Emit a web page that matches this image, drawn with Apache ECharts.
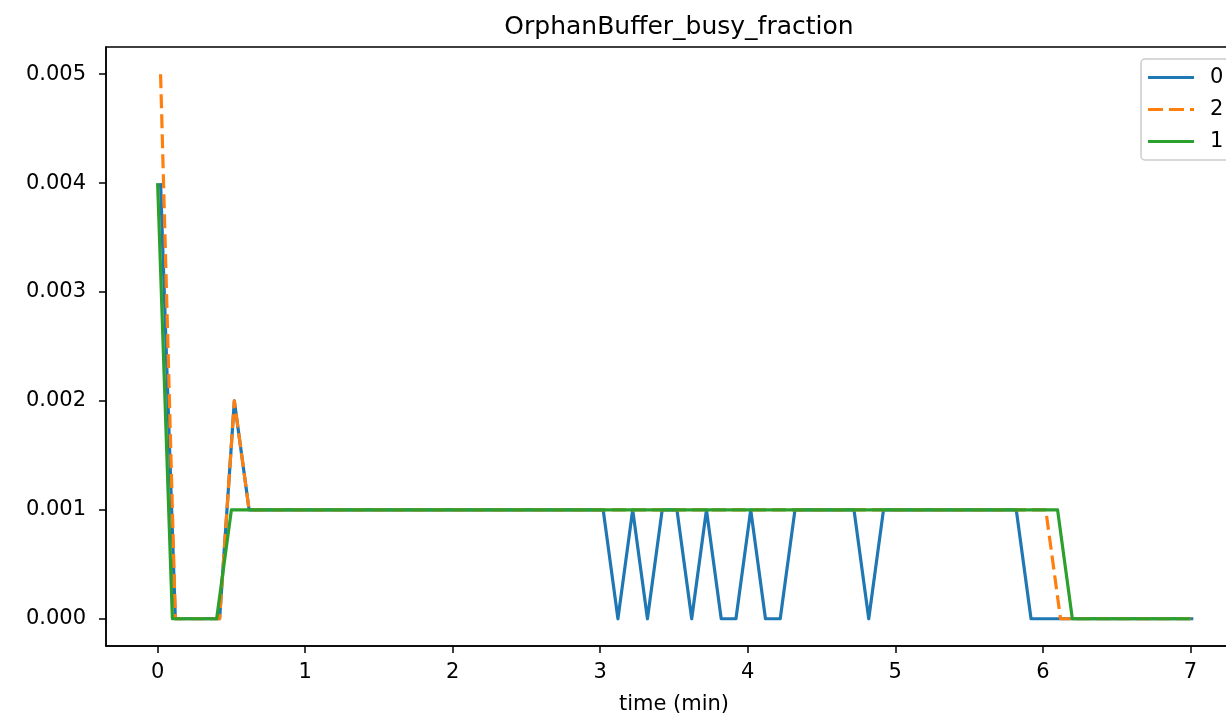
<!DOCTYPE html>
<html>
<head>
<meta charset="utf-8">
<script src="https://cdn.jsdelivr.net/npm/echarts@6/dist/echarts.min.js"></script>
<style>
  html, body { margin: 0; padding: 0; background: #fff; }
  #main { width: 1226px; height: 719px; }
</style>
</head>
<body>
<div id="main"></div>
<script>
// sample times (min) for series "1" and for series "0"/"2" (slightly offset)
const timeGreen = [
  0.0, 0.1, 0.2, 0.3, 0.4, 0.5, 0.6, 0.7, 0.8, 0.9,
  1.0, 1.1, 1.2, 1.3, 1.4, 1.5, 1.6, 1.7, 1.8, 1.9,
  2.0, 2.1, 2.2, 2.3, 2.4, 2.5, 2.6, 2.7, 2.8, 2.9,
  3.0, 3.1, 3.2, 3.3, 3.4, 3.5, 3.6, 3.7, 3.8, 3.9,
  4.0, 4.1, 4.2, 4.3, 4.4, 4.5, 4.6, 4.7, 4.8, 4.9,
  5.0, 5.1, 5.2, 5.3, 5.4, 5.5, 5.6, 5.7, 5.8, 5.9,
  6.0, 6.1, 6.2, 6.3, 6.4, 6.5, 6.6, 6.7, 6.8, 6.9,
  7.0
];
const timeOther = [
  0.02, 0.12, 0.22, 0.32, 0.42, 0.52, 0.62, 0.72, 0.82, 0.92,
  1.02, 1.12, 1.22, 1.32, 1.42, 1.52, 1.62, 1.72, 1.82, 1.92,
  2.02, 2.12, 2.22, 2.32, 2.42, 2.52, 2.62, 2.72, 2.82, 2.92,
  3.02, 3.12, 3.22, 3.32, 3.42, 3.52, 3.62, 3.72, 3.82, 3.92,
  4.02, 4.12, 4.22, 4.32, 4.42, 4.52, 4.62, 4.72, 4.82, 4.92,
  5.02, 5.12, 5.22, 5.32, 5.42, 5.52, 5.62, 5.72, 5.82, 5.92,
  6.02, 6.12, 6.22, 6.32, 6.42, 6.52, 6.62, 6.72, 6.82, 6.92,
  7.02
];

const values0 = [
  0.004, 0, 0, 0, 0, 0.002, 0.001, 0.001, 0.001, 0.001,
  0.001, 0.001, 0.001, 0.001, 0.001, 0.001, 0.001, 0.001, 0.001, 0.001,
  0.001, 0.001, 0.001, 0.001, 0.001, 0.001, 0.001, 0.001, 0.001, 0.001,
  0.001, 0, 0.001, 0, 0.001, 0.001, 0, 0.001, 0, 0,
  0.001, 0, 0, 0.001, 0.001, 0.001, 0.001, 0.001, 0, 0.001,
  0.001, 0.001, 0.001, 0.001, 0.001, 0.001, 0.001, 0.001, 0.001, 0,
  0, 0, 0, 0, 0, 0, 0, 0, 0, 0,
  0
];
const values2 = [
  0.005, 0, 0, 0, 0, 0.002, 0.001, 0.001, 0.001, 0.001,
  0.001, 0.001, 0.001, 0.001, 0.001, 0.001, 0.001, 0.001, 0.001, 0.001,
  0.001, 0.001, 0.001, 0.001, 0.001, 0.001, 0.001, 0.001, 0.001, 0.001,
  0.001, 0.001, 0.001, 0.001, 0.001, 0.001, 0.001, 0.001, 0.001, 0.001,
  0.001, 0.001, 0.001, 0.001, 0.001, 0.001, 0.001, 0.001, 0.001, 0.001,
  0.001, 0.001, 0.001, 0.001, 0.001, 0.001, 0.001, 0.001, 0.001, 0.001,
  0.001, 0, 0, 0, 0, 0, 0, 0, 0, 0,
  0
];
const values1 = [
  0.004, 0, 0, 0, 0, 0.001, 0.001, 0.001, 0.001, 0.001,
  0.001, 0.001, 0.001, 0.001, 0.001, 0.001, 0.001, 0.001, 0.001, 0.001,
  0.001, 0.001, 0.001, 0.001, 0.001, 0.001, 0.001, 0.001, 0.001, 0.001,
  0.001, 0.001, 0.001, 0.001, 0.001, 0.001, 0.001, 0.001, 0.001, 0.001,
  0.001, 0.001, 0.001, 0.001, 0.001, 0.001, 0.001, 0.001, 0.001, 0.001,
  0.001, 0.001, 0.001, 0.001, 0.001, 0.001, 0.001, 0.001, 0.001, 0.001,
  0.001, 0.001, 0, 0, 0, 0, 0, 0, 0, 0,
  0
];

const xTicks = [0, 1, 2, 3, 4, 5, 6, 7];
const yTicks = [0, 0.001, 0.002, 0.003, 0.004, 0.005];

const font = "DejaVu Sans";
const zip = (xs, ys) => xs.map((x, i) => [x, ys[i]]);

// legend swatches: solid bar and matplotlib-like dashed bar
const solidIcon = "path://M0,0H46V3H0Z";
const dashIcon = "path://M0,0H15V3H0Z M21,0H36V3H21Z M42,0H46V3H42Z";

const chart = echarts.init(document.getElementById("main"));

const lineSeries = (name, xs, ys, color, type) => ({
  name: name,
  type: "line",
  data: zip(xs, ys),
  symbol: "none",
  lineStyle: { color: color, width: 3.2, type: type, join: "round" },
  itemStyle: { color: color },
});

chart.setOption({
  animation: false,
  title: {
    text: "OrphanBuffer_busy_fraction",
    left: 674,
    textAlign: "center",
    top: 10,
    textStyle: { fontFamily: font, fontSize: 25, fontWeight: "normal", color: "#000" },
  },
  grid: {
    left: 106, width: 1136, top: 47, bottom: 73,
    outerBoundsMode: "none",
    containLabel: false,
    show: true, borderColor: "#000", borderWidth: 1.5,
  },
  legend: {
    orient: "vertical",
    left: 1141,
    top: 59,
    padding: [8, 60, 8, 7],
    itemWidth: 46,
    itemHeight: 3,
    itemGap: 11,
    symbolKeepAspect: false,
    backgroundColor: "rgba(255,255,255,0.8)",
    borderColor: "#cccccc",
    borderWidth: 1.5,
    borderRadius: 4,
    textStyle: { fontFamily: font, fontSize: 21, color: "#000", padding: [0, 0, 0, 11] },
    data: [
      { name: "0", icon: solidIcon },
      { name: "2", icon: dashIcon },
      { name: "1", icon: solidIcon },
    ],
  },
  xAxis: {
    type: "value",
    min: -0.35,
    max: 7.35,
    name: "time (min)",
    nameLocation: "middle",
    nameGap: 48,
    nameTextStyle: { fontFamily: font, fontSize: 21, color: "#000" },
    splitLine: { show: false },
    axisLine: { show: true, onZero: false, lineStyle: { color: "#000", width: 1.5 } },
    axisTick: { show: true, length: 7, lineStyle: { color: "#000", width: 1.5 }, customValues: xTicks },
    axisLabel: {
      fontFamily: font, fontSize: 21, color: "#000", margin: 16,
      customValues: xTicks,
      formatter: (v) => String(Math.round(v)),
    },
  },
  yAxis: {
    type: "value",
    min: -0.00025,
    max: 0.00525,
    splitLine: { show: false },
    axisLine: { show: true, onZero: false, lineStyle: { color: "#000", width: 1.5 } },
    axisTick: { show: true, length: 7, lineStyle: { color: "#000", width: 1.5 }, customValues: yTicks },
    axisLabel: {
      fontFamily: font, fontSize: 21, color: "#000", margin: 20,
      customValues: yTicks,
      formatter: (v) => v.toFixed(3),
    },
  },
  series: [
    lineSeries("0", timeOther, values0, "#1f77b4", "solid"),
    lineSeries("2", timeOther, values2, "#ff7f0e", [14, 6]),
    lineSeries("1", timeGreen, values1, "#2ca02c", "solid"),
  ],
});
</script>
</body>
</html>
